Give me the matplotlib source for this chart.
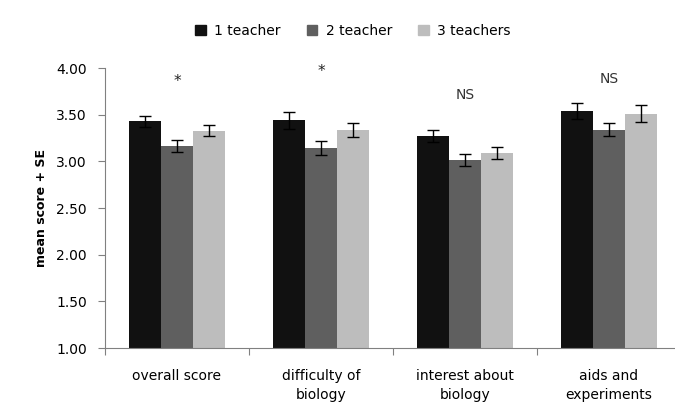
import numpy as np
import matplotlib
matplotlib.use('Agg')
import matplotlib.pyplot as plt
from matplotlib.patches import Patch

# data
categories = ['overall score', 'difficulty of\nbiology', 'interest about\nbiology', 'aids and\nexperiments']
series = ['1 teacher', '2 teacher', '3 teachers']
one_teacher = [3.43, 3.44, 3.27, 3.54]
two_teacher = [3.165, 3.14, 3.01, 3.34]
three_teachers = [3.33, 3.34, 3.09, 3.51]
one_se = [0.06, 0.09, 0.065, 0.09]
two_se = [0.06, 0.075, 0.065, 0.07]
three_se = [0.055, 0.075, 0.065, 0.09]
signif = ['*', '*', 'NS', 'NS']
signif_y = [3.86, 3.96, 3.71, 3.88]

colors = ['#111111', '#5f5f5f', '#bdbdbd']
values = [one_teacher, two_teacher, three_teachers]
errors = [one_se, two_se, three_se]

fig = plt.figure(figsize=(6.75, 4.07), dpi=100)
ax = fig.add_axes([105 / 675, 59 / 407, 576 / 675, 280 / 407])

x = np.arange(len(categories))
w = 0.222
for i in range(3):
    ax.bar(x + (i - 1) * w, values[i], w, bottom=0, color=colors[i],
           yerr=errors[i], capsize=4,
           error_kw=dict(ecolor='black', elinewidth=1, capthick=1))

for xi, s, sy in zip(x, signif, signif_y):
    if s == '*':
        ax.text(xi, sy, s, ha='center', va='center', fontsize=11, color='#222222')
    else:
        ax.text(xi, sy, s, ha='center', va='center', fontsize=10, color='#333333')

ax.set_ylim(1.0, 4.0)
ax.set_xlim(-0.5, len(categories) - 0.5)
ax.set_yticks(np.arange(1.0, 4.01, 0.5))
ax.set_yticklabels(['%.2f' % v for v in np.arange(1.0, 4.01, 0.5)], fontsize=10)
ax.set_xticks(np.arange(-0.5, len(categories), 1.0))
ax.set_xticklabels([])
ax.set_xticks(x, minor=True)
ax.set_xticklabels(categories, minor=True, fontsize=10, linespacing=1.45)
ax.tick_params(axis='x', which='minor', length=0, pad=15)
ax.tick_params(axis='x', which='major', length=5, color='#808080')
ax.tick_params(axis='y', length=5, color='#808080', pad=8)

for sp in ['top', 'right']:
    ax.spines[sp].set_visible(False)
for sp in ['left', 'bottom']:
    ax.spines[sp].set_color('#808080')

ax.set_ylabel('mean score + SE', fontsize=9, fontweight='bold', labelpad=6)

handles = [Patch(color=c) for c in colors]
fig.legend(handles, series, loc='center', bbox_to_anchor=(0.523, 0.925), ncol=3,
           frameon=False, fontsize=10, handlelength=0.75, handleheight=0.75,
           handletextpad=0.6, columnspacing=1.9)

fig.savefig('out.png', dpi=100)
